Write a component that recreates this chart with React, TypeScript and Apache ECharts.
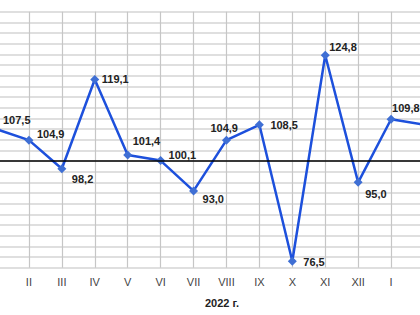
import React, { useEffect, useRef } from "react";
import * as echarts from "echarts";

const months = ["I", "II", "III", "IV", "V", "VI", "VII", "VIII", "IX", "X", "XI", "XII", "I", "II"];
const values = [107.5, 104.9, 98.2, 119.1, 101.4, 100.1, 93.0, 104.9, 108.5, 76.5, 124.8, 95.0, 109.8, 108.5];
const yearLabel = "2022 г.";
// label placement relative to each point: [dx, dy] in px
const labelShift: [number, number][] = [
  [7, -9], [8, -6], [10, 10], [7, -1], [5, -14], [8, -6], [9, 8],
  [-16, -12], [11, 0], [11, 1], [4, -8], [7, 12], [1, -11], [6, -8],
];

export default function App() {
  const ref = useRef<HTMLDivElement>(null);
  useEffect(() => {
    if (!ref.current) return;
    const chart = echarts.init(ref.current, undefined, { renderer: "svg" });
    const font = "Arial, 'Liberation Sans', sans-serif";
    chart.setOption({
      animation: false,
      backgroundColor: "#ffffff",
      grid: { left: -4, right: -4, top: 11.7, bottom: 47.3, containLabel: false, outerBoundsMode: "none" },
      xAxis: {
        type: "category",
        boundaryGap: false,
        data: months,
        axisLine: { show: false },
        axisTick: { show: false },
        axisLabel: {
          color: "#444",
          fontSize: 11,
          fontFamily: font,
          margin: 9,
          interval: (i: number) => i > 0 && i < months.length - 1,
        },
        splitLine: { show: true, interval: 0, lineStyle: { color: "#c6c6c6", width: 1.2 } },
      },
      yAxis: {
        type: "value",
        min: 75,
        max: 135,
        interval: 2.5,
        axisLabel: { show: false },
        axisLine: { show: false },
        axisTick: { show: false },
        splitLine: { show: true, lineStyle: { color: "#d4d4d4", width: 1.5 } },
      },
      graphic: [
        {
          type: "text",
          x: 222,
          y: 303,
          style: {
            text: yearLabel,
            fill: "#222",
            font: `bold 11px ${font}`,
            textAlign: "center",
            textVerticalAlign: "middle",
          },
        },
      ],
      series: [
        {
          type: "line",
          data: values.map((v, i) => ({
            value: v,
            label: {
              offset: [labelShift[i][0] - 4.5, labelShift[i][1]],
            },
          })),
          symbol: "diamond",
          symbolSize: 9,
          lineStyle: { color: "#1d50dc", width: 2.5 },
          itemStyle: { color: "#3f6fd4" },
          label: {
            show: true,
            position: "right",
            distance: 0,
            color: "#222",
            fontSize: 11,
            fontWeight: "bold",
            fontFamily: font,
            formatter: (p: any) => Number(p.value).toFixed(1).replace(".", ","),
          },
          markLine: {
            silent: true,
            symbol: "none",
            label: { show: false },
            lineStyle: { color: "#000", width: 1.5, type: "solid" },
            data: [{ yAxis: 100 }],
          },
          z: 3,
        },
      ],
    });
    return () => chart.dispose();
  }, []);
  return <div ref={ref} style={{ width: 420, height: 315, position: "absolute", left: 0, top: 0 }} />;
}
